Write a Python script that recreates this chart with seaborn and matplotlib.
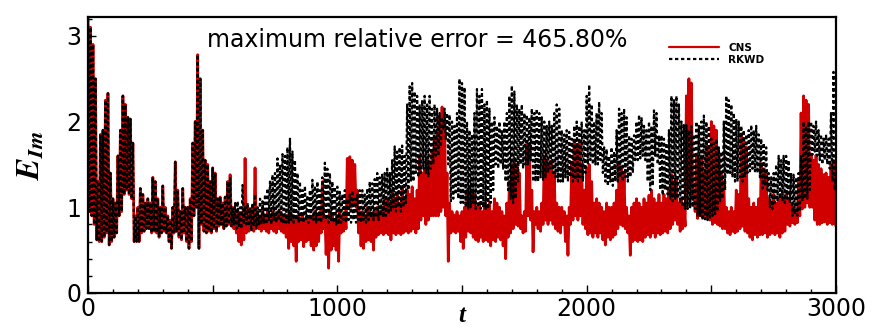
import numpy as np
import pandas as pd
import seaborn as sns
import matplotlib
matplotlib.use("Agg")
import matplotlib.pyplot as plt
from matplotlib.ticker import MultipleLocator, FuncFormatter

t_step = 5
rkwd = [
    3.2, 0.95, 3.1, 0.9, 2.9, 0.8, 2.5, 0.62, 1.3, 0.6, 1.85, 0.6, 1.9, 0.65, 2.25, 0.7, 2.33, 0.56, 1.4, 0.6,
    1.1, 0.65, 1.05, 0.7, 1.6, 0.9, 1.9, 0.95, 2.3, 1.15, 2.2, 1.2, 2.05, 1.15, 2.03, 1.1, 1.75, 0.6, 0.9, 0.6,
    1.0, 0.6, 1.22, 0.7, 1.15, 0.72, 1.05, 0.75, 1.1, 0.75, 1.05, 0.7, 1.35, 0.72, 1.3, 0.7, 1.1, 0.65, 1.0, 0.7,
    1.25, 0.72, 1.0, 0.7, 0.9, 0.6, 0.85, 0.52, 1.0, 0.7, 1.53, 0.72, 1.2, 0.65, 0.95, 0.62, 1.22, 0.7, 1.0, 0.6,
    1.0, 0.52, 1.1, 0.6, 1.75, 0.9, 2.0, 1.0, 2.78, 0.52, 2.5, 0.8, 1.9, 0.72, 1.55, 0.7, 1.5, 0.72, 1.3, 0.7,
    1.46, 0.75, 1.4, 0.72, 1.1, 0.78, 1.12, 0.8, 1.05, 0.75, 1.12, 0.78, 1.3, 0.8, 1.34, 0.78, 1.0, 0.8, 1.05, 0.75,
    1.07, 0.78, 1.0, 0.75, 1.26, 0.8, 1.0, 0.8, 1.05, 0.78, 1.0, 0.72, 1.05, 0.78, 1.15, 0.75, 1.0, 0.8, 1.1, 0.8,
    1.07, 0.82, 1.15, 0.8, 1.22, 0.85, 1.3, 0.8, 1.38, 0.85, 1.4, 0.82, 1.57, 0.85, 1.5, 0.82, 1.62, 0.8, 1.6, 0.82,
    1.7, 0.82, 1.8, 0.85, 1.65, 0.82, 1.55, 0.85, 1.4, 0.82, 1.3, 0.85, 1.2, 0.82, 1.25, 0.85, 1.14, 0.82, 1.2, 0.85,
    1.32, 0.85, 1.25, 0.82, 1.3, 0.85, 1.2, 0.82, 1.35, 0.88, 1.52, 0.85, 1.45, 0.82, 1.4, 0.85, 1.3, 0.82, 1.24, 0.8,
    1.24, 0.8, 1.18, 0.82, 1.15, 0.85, 1.2, 0.82, 1.1, 0.85, 1.15, 0.82, 1.2, 0.85, 1.1, 0.82, 1.15, 0.85, 1.2, 0.82,
    1.2, 0.85, 1.15, 0.82, 1.22, 0.85, 1.3, 0.88, 1.28, 0.85, 1.33, 0.88, 1.4, 0.85, 1.35, 0.9, 1.38, 0.88, 1.4, 0.9,
    1.45, 0.92, 1.4, 0.95, 1.55, 1.0, 1.71, 0.95, 1.65, 1.0, 1.7, 0.95, 1.72, 1.0, 1.6, 1.05, 2.2, 1.2, 2.41, 1.3,
    2.45, 1.3, 2.35, 1.4, 2.3, 1.35, 2.2, 1.4, 2.25, 1.45, 2.3, 1.4, 2.2, 1.35, 2.3, 1.45, 2.15, 1.5, 2.2, 1.6,
    2.15, 1.6, 2.1, 1.7, 2.05, 1.9, 2.15, 1.8, 2.1, 1.5, 2.08, 1.07, 2.0, 1.1, 1.95, 1.15, 2.1, 1.1, 2.5, 1.05,
    2.45, 1.05, 2.4, 1.0, 2.0, 0.98, 1.9, 1.0, 1.85, 1.05, 2.1, 0.98, 2.38, 1.0, 2.3, 0.98, 2.38, 1.0, 2.2, 0.98,
    2.25, 0.98, 2.15, 1.05, 2.0, 1.2, 2.05, 1.5, 1.95, 1.45, 2.0, 1.5, 1.9, 1.45, 2.0, 1.3, 2.1, 1.2, 2.3, 1.1,
    2.42, 1.05, 2.35, 1.1, 2.2, 1.3, 2.15, 1.5, 2.2, 1.45, 2.1, 1.5, 2.08, 1.5, 2.05, 1.55, 2.15, 1.3, 2.1, 1.3,
    2.15, 1.3, 2.1, 1.35, 2.05, 1.32, 2.0, 1.35, 1.95, 1.4, 2.0, 1.45, 1.95, 1.4, 2.1, 1.35, 2.2, 1.3, 2.15, 1.3,
    1.9, 1.3, 1.85, 1.35, 1.9, 1.3, 1.88, 1.35, 1.8, 1.3, 1.95, 1.32, 2.0, 1.3, 1.95, 1.35, 2.0, 1.3, 1.9, 1.4,
    2.3, 1.5, 2.43, 1.55, 2.2, 1.5, 2.0, 1.5, 2.1, 1.5, 2.23, 1.55, 2.1, 1.4, 1.7, 1.3, 1.68, 1.25, 1.6, 1.3,
    1.7, 1.25, 1.65, 1.3, 1.9, 1.3, 2.15, 1.35, 2.1, 1.3, 2.15, 1.35, 2.05, 1.3, 1.84, 1.35, 1.8, 1.4, 1.84, 1.55,
    2.0, 1.55, 2.08, 1.57, 2.05, 1.6, 1.95, 1.55, 1.9, 1.3, 2.0, 1.2, 1.95, 1.25, 2.13, 1.6, 2.1, 1.5, 1.84, 1.2,
    1.84, 1.14, 1.8, 1.2, 1.75, 1.15, 1.9, 1.1, 2.3, 1.07, 2.25, 1.1, 2.3, 1.1, 2.2, 1.05, 2.0, 1.0, 1.96, 0.98,
    1.96, 0.98, 1.9, 1.0, 1.95, 1.0, 1.85, 0.98, 2.0, 0.9, 1.95, 0.9, 2.0, 0.85, 2.07, 0.86, 2.0, 0.85, 1.95, 0.88,
    1.8, 0.9, 1.75, 0.92, 1.8, 0.95, 1.7, 1.07, 1.65, 1.1, 2.0, 1.2, 2.3, 1.38, 2.25, 1.4, 2.2, 1.35, 2.1, 1.3,
    2.03, 1.3, 2.0, 1.35, 1.95, 1.3, 1.9, 1.35, 1.85, 1.4, 1.9, 1.42, 1.96, 1.45, 1.9, 1.42, 1.95, 1.4, 1.85, 1.35,
    1.8, 1.22, 1.75, 1.25, 1.7, 1.2, 1.4, 1.0, 1.35, 0.98, 1.4, 1.05, 1.5, 1.07, 1.6, 1.1, 1.55, 1.07, 1.6, 1.05,
    1.6, 1.1, 1.55, 1.05, 1.4, 0.9, 1.38, 0.92, 1.35, 0.9, 1.4, 0.95, 1.6, 1.07, 2.0, 1.1, 1.95, 1.1, 2.0, 1.2,
    2.0, 1.61, 1.95, 1.65, 2.0, 1.6, 1.9, 1.55, 1.85, 1.5, 1.8, 1.55, 1.85, 1.5, 1.8, 1.45, 2.1, 1.3, 2.58, 1.2,
    1.4,
]
cns = [
    3.2, 0.95, 3.1, 0.9, 2.9, 0.8, 2.5, 0.62, 1.3, 0.6, 1.85, 0.6, 1.9, 0.65, 2.25, 0.7, 2.33, 0.56, 1.4, 0.6,
    1.1, 0.65, 1.05, 0.7, 1.6, 0.9, 1.9, 0.95, 2.3, 1.15, 2.2, 1.2, 2.05, 1.15, 2.03, 1.1, 1.75, 0.6, 0.9, 0.6,
    1.0, 0.6, 1.22, 0.7, 1.15, 0.72, 1.05, 0.75, 1.1, 0.75, 1.05, 0.7, 1.35, 0.72, 1.3, 0.7, 1.1, 0.65, 1.0, 0.7,
    1.25, 0.72, 1.0, 0.7, 0.9, 0.6, 0.85, 0.52, 1.0, 0.7, 1.53, 0.72, 1.2, 0.65, 0.95, 0.62, 1.22, 0.7, 1.0, 0.6,
    1.0, 0.52, 1.1, 0.6, 1.75, 0.9, 2.0, 1.0, 2.78, 0.52, 2.5, 0.8, 1.9, 0.72, 1.55, 0.7, 1.5, 0.72, 1.3, 0.7,
    1.46, 0.75, 1.4, 0.72, 1.1, 0.78, 1.12, 0.8, 1.05, 0.75, 1.12, 0.78, 1.3, 0.8, 1.38, 0.78, 1.0, 0.75, 0.95, 0.7,
    0.95, 0.6, 0.9, 0.56, 0.95, 0.62, 1.57, 0.7, 1.0, 0.72, 0.95, 0.75, 1.0, 0.72, 1.46, 0.75, 0.95, 0.75, 0.9, 0.72,
    0.95, 0.75, 0.9, 0.72, 0.95, 0.7, 0.9, 0.75, 0.95, 0.72, 0.9, 0.7, 0.92, 0.75, 0.95, 0.72, 0.9, 0.7, 0.92, 0.65,
    0.9, 0.52, 0.95, 0.6, 0.9, 0.55, 0.85, 0.37, 0.9, 0.6, 0.88, 0.62, 0.9, 0.54, 0.85, 0.6, 0.88, 0.62, 0.9, 0.55,
    0.9, 0.5, 0.95, 0.55, 0.9, 0.6, 0.95, 0.7, 1.3, 0.75, 0.9, 0.45, 0.85, 0.29, 0.95, 0.5, 0.9, 0.55, 0.85, 0.5,
    0.9, 0.37, 0.95, 0.7, 0.9, 0.72, 0.95, 0.75, 1.57, 1.0, 1.59, 1.0, 1.55, 1.05, 1.5, 1.0, 1.2, 0.7, 0.95, 0.55,
    0.95, 0.52, 0.9, 0.6, 1.0, 0.62, 0.95, 0.6, 0.9, 0.5, 0.95, 0.65, 1.0, 0.68, 0.95, 0.7, 1.0, 0.68, 1.1, 0.7,
    1.1, 0.68, 1.05, 0.62, 1.2, 0.7, 1.1, 0.68, 1.15, 0.7, 1.05, 0.68, 1.24, 0.7, 1.1, 0.72, 1.2, 0.7, 1.15, 0.72,
    1.24, 0.75, 1.1, 0.7, 1.2, 0.75, 1.6, 0.85, 1.4, 0.9, 1.45, 0.8, 1.55, 0.85, 1.5, 0.9, 1.65, 0.9, 1.8, 0.9,
    1.9, 0.9, 2.05, 0.95, 2.17, 1.0, 2.1, 0.9, 1.4, 0.37, 1.05, 0.7, 0.95, 0.72, 0.91, 0.7, 0.95, 0.72, 0.9, 0.6,
    0.95, 0.52, 1.0, 0.65, 1.2, 0.72, 1.25, 0.7, 1.2, 0.65, 1.15, 0.62, 1.0, 0.6, 1.05, 0.65, 0.95, 0.6, 1.05, 0.62,
    1.0, 0.6, 1.05, 0.55, 0.95, 0.62, 1.1, 0.6, 1.05, 0.65, 1.0, 0.62, 0.95, 0.55, 0.9, 0.4, 1.05, 0.65, 1.3, 0.7,
    1.5, 0.75, 1.57, 0.8, 1.5, 0.78, 1.4, 0.75, 0.9, 0.7, 0.95, 0.72, 1.73, 0.9, 1.7, 0.85, 1.2, 0.48, 0.95, 0.8,
    1.0, 0.75, 0.95, 0.72, 1.05, 0.8, 1.6, 0.85, 1.55, 0.8, 1.5, 0.85, 1.55, 0.8, 1.4, 0.75, 1.05, 0.72, 1.0, 0.7,
    1.0, 0.8, 0.95, 0.6, 0.9, 0.44, 1.0, 0.8, 1.5, 0.85, 1.77, 0.9, 1.7, 0.85, 1.75, 0.9, 1.5, 0.8, 1.2, 0.75,
    1.46, 0.68, 1.5, 0.7, 1.3, 0.65, 1.05, 0.7, 1.1, 0.65, 1.05, 0.7, 1.0, 0.62, 0.95, 0.56, 1.05, 0.65, 1.0, 0.62,
    1.0, 0.65, 1.05, 0.68, 1.2, 0.75, 1.5, 0.8, 1.45, 0.78, 1.4, 0.75, 1.0, 0.7, 0.9, 0.44, 1.0, 0.6, 1.05, 0.62,
    1.1, 0.6, 1.05, 0.62, 1.0, 0.6, 1.1, 0.65, 1.05, 0.68, 1.14, 0.65, 1.2, 0.7, 1.1, 0.65, 1.05, 0.7, 1.15, 0.68,
    1.05, 0.7, 1.15, 0.72, 1.1, 0.7, 1.2, 0.75, 1.38, 0.8, 1.3, 0.85, 1.35, 0.8, 1.05, 0.72, 1.1, 0.75, 1.0, 0.78,
    2.3, 1.2, 2.5, 1.25, 2.45, 1.1, 1.2, 0.95, 1.6, 0.87, 1.55, 0.9, 1.6, 0.88, 1.4, 0.9, 1.75, 0.88, 1.7, 0.85,
    2.0, 0.8, 1.95, 0.82, 1.9, 0.8, 1.6, 0.78, 1.38, 0.75, 1.3, 0.75, 1.0, 0.7, 0.95, 0.68, 1.0, 0.72, 0.95, 0.7,
    1.2, 0.72, 1.15, 0.75, 1.85, 0.78, 1.8, 0.72, 1.7, 0.7, 1.1, 0.65, 1.0, 0.62, 1.05, 0.68, 1.0, 0.65, 1.1, 0.68,
    1.51, 0.68, 1.45, 0.7, 1.4, 0.65, 1.1, 0.68, 1.05, 0.7, 1.15, 0.68, 1.05, 0.7, 1.1, 0.65, 1.15, 0.7, 1.1, 0.72,
    1.15, 0.8, 1.1, 0.78, 1.05, 0.82, 1.0, 0.8, 0.95, 0.82, 1.3, 0.9, 2.1, 0.98, 2.3, 1.0, 2.25, 1.05, 2.2, 1.0,
    1.6, 1.0, 1.55, 0.85, 1.61, 0.8, 1.5, 0.8, 1.45, 0.82, 1.38, 0.83, 1.4, 0.8, 1.35, 0.82, 1.5, 0.8, 1.55, 0.82,
    0.78,
]
series_names = ["CNS", "RKWD"]
annotation = "maximum relative error = 465.80%"

df = pd.concat([
    pd.DataFrame({"t": np.arange(len(cns)) * t_step, "E": cns, "series": series_names[0]}),
    pd.DataFrame({"t": np.arange(len(rkwd)) * t_step, "E": rkwd, "series": series_names[1]}),
])

sns.set_style("ticks")
plt.rcParams["font.family"] = ["DejaVu Sans"]
plt.rcParams["mathtext.fontset"] = "stix"
for key in ["text.color", "axes.labelcolor", "xtick.color", "ytick.color", "axes.edgecolor"]:
    plt.rcParams[key] = "black"

fig = plt.figure(figsize=(8.72, 3.27), dpi=100)
ax = fig.add_axes([88 / 872, 1 - 293 / 327, (836 - 88) / 872, (293 - 17) / 327])

sns.lineplot(data=df[df.series == "CNS"], x="t", y="E", ax=ax, color="#d00000",
             lw=2.0, estimator=None, sort=False, label="CNS")
sns.lineplot(data=df[df.series == "RKWD"], x="t", y="E", ax=ax, color="black",
             lw=1.6, estimator=None, sort=False, label="RKWD",
             linestyle=(0, (1.5, 1.2)))

ax.set_xlim(0, 3000)
ax.set_ylim(0, 3.22)
ax.xaxis.set_major_locator(MultipleLocator(500))
ax.xaxis.set_minor_locator(MultipleLocator(100))
ax.yaxis.set_major_locator(MultipleLocator(1))
ax.yaxis.set_minor_locator(MultipleLocator(0.2))
ax.xaxis.set_major_formatter(FuncFormatter(lambda v, p: f"{int(v)}" if int(v) % 1000 == 0 else ""))
ax.tick_params(which="both", direction="in", top=False, right=False, labelsize=17, width=1,
               color="black", labelcolor="black")
ax.tick_params(which="major", length=6)
ax.tick_params(which="minor", length=3)
ax.tick_params(axis="x", pad=3)
ax.tick_params(axis="y", pad=5)
for s in ax.spines.values():
    s.set_linewidth(1.6)
    s.set_color("black")
    s.set_visible(True)

ax.set_xlabel("t", fontsize=18, family="Liberation Serif", style="italic", weight="bold",
              labelpad=-12, color="black")
ax.set_ylabel(r"$\mathbfit{E}_{\mathbfit{Im}}$", fontsize=23, labelpad=14, color="black")

ax.text(0.44, 0.915, annotation, transform=ax.transAxes, ha="center", va="center",
        fontsize=17, color="black")

leg = ax.legend(loc="upper left", bbox_to_anchor=((669 - 88) / 748, (293 - 43) / 276),
                frameon=False, fontsize=7.5, handlelength=4.8, handletextpad=0.9,
                labelspacing=0.15, borderpad=0, borderaxespad=0)
for txt in leg.get_texts():
    txt.set_fontweight("bold")
    txt.set_color("black")
for h in leg.get_lines():
    h.set_linewidth(1.6)

fig.savefig("out.png", dpi=100)
